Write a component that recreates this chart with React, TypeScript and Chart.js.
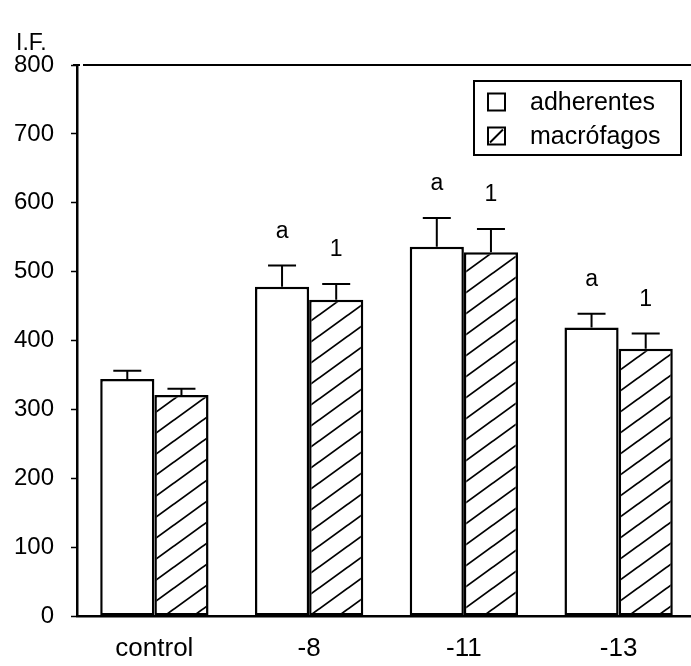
import React, { useEffect, useRef } from 'react';
import { Chart, registerables } from 'chart.js';

Chart.register(...registerables);

const categories = ['control', '-8', '-11', '-13'];
const seriesLabels = ['adherentes', 'macrófagos'];
const adherentes = [344, 478, 536, 419];
const adherentesErr = [12, 31, 42, 20];
const macrofagos = [321, 459, 528, 388];
const macrofagosErr = [9, 23, 34, 22];
const sigAdherentes = ['', 'a', 'a', 'a'];
const sigMacrofagos = ['', '1', '1', '1'];
const yTickValues = [0, 100, 200, 300, 400, 500, 600, 700, 800];
const yAxisTitle = 'I.F.';

const FONT = '"Liberation Sans", Arial, Helvetica, sans-serif';

function makeHatch(): CanvasPattern | string {
  const w = 29;
  const h = 21;
  const c = document.createElement('canvas');
  c.width = w;
  c.height = h;
  const g = c.getContext('2d');
  if (!g) return '#fff';
  g.fillStyle = '#fff';
  g.fillRect(0, 0, w, h);
  g.strokeStyle = '#000';
  g.lineWidth = 1.8;
  const lines = [
    [-w, 2 * h, 2 * w, -h],
    [0, 2 * h, 2 * w, 0],
    [-w, h, w, -h],
  ];
  for (const [x1, y1, x2, y2] of lines) {
    g.beginPath();
    g.moveTo(x1, y1);
    g.lineTo(x2, y2);
    g.stroke();
  }
  const p = g.createPattern(c, 'repeat');
  return p || '#fff';
}

export default function App() {
  const ref = useRef<HTMLCanvasElement | null>(null);

  useEffect(() => {
    const canvas = ref.current;
    if (!canvas) return;
    const hatch = makeHatch();
    const errs = [adherentesErr, macrofagosErr];
    const sigs = [sigAdherentes, sigMacrofagos];

    const extras = {
      id: 'extras',
      afterDatasetsDraw(chart: any) {
        const ctx = chart.ctx as CanvasRenderingContext2D;
        const ys = chart.scales.y;
        const area = chart.chartArea;
        ctx.save();
        // top frame line
        ctx.strokeStyle = '#000';
        ctx.lineWidth = 2;
        ctx.beginPath();
        ctx.moveTo(area.left + 6, area.top);
        ctx.lineTo(area.right, area.top);
        ctx.stroke();
        ctx.beginPath();
        ctx.moveTo(area.left - 4, area.top);
        ctx.lineTo(area.left + 3, area.top);
        ctx.stroke();
        // error bars + significance letters
        chart.data.datasets.forEach((ds: any, di: number) => {
          const meta = chart.getDatasetMeta(di);
          meta.data.forEach((bar: any, i: number) => {
            const v = ds.data[i];
            const capY = ys.getPixelForValue(v + errs[di][i]);
            ctx.strokeStyle = '#000';
            ctx.lineWidth = 2;
            ctx.beginPath();
            ctx.moveTo(bar.x, bar.y);
            ctx.lineTo(bar.x, capY);
            ctx.moveTo(bar.x - 14, capY);
            ctx.lineTo(bar.x + 14, capY);
            ctx.stroke();
            const s = sigs[di][i];
            if (s) {
              ctx.fillStyle = '#000';
              ctx.font = `23px ${FONT}`;
              ctx.textAlign = 'center';
              ctx.textBaseline = 'middle';
              ctx.fillText(s, bar.x, capY - 34);
            }
          });
        });
        // legend box
        const bx = area.right - 222;
        const by = area.top + 16;
        const bw = 207;
        const bh = 74;
        ctx.fillStyle = '#fff';
        ctx.fillRect(bx, by, bw, bh);
        ctx.lineWidth = 2;
        ctx.strokeRect(bx, by, bw, bh);
        ctx.font = `25px ${FONT}`;
        ctx.textAlign = 'left';
        ctx.textBaseline = 'middle';
        chart.data.datasets.forEach((ds: any, di: number) => {
          const cy = by + 21 + di * 34;
          const sx = bx + 14;
          const sz = 17;
          ctx.fillStyle = '#fff';
          ctx.fillRect(sx, cy - sz / 2, sz, sz);
          ctx.strokeStyle = '#000';
          ctx.lineWidth = 2;
          ctx.strokeRect(sx, cy - sz / 2, sz, sz);
          if (di === 1) {
            ctx.beginPath();
            ctx.moveTo(sx + 2, cy + sz / 2 - 2);
            ctx.lineTo(sx + sz - 2, cy - sz / 2 + 2);
            ctx.stroke();
          }
          ctx.fillStyle = '#000';
          ctx.fillText(ds.label, bx + 56, cy + 1);
        });
        // axis title
        ctx.font = `23px ${FONT}`;
        ctx.textAlign = 'left';
        ctx.textBaseline = 'middle';
        ctx.fillText(yAxisTitle, 16, 44);
        ctx.restore();
      },
    };

    const chart = new Chart(canvas, {
      type: 'bar',
      data: {
        labels: categories,
        datasets: [
          {
            label: seriesLabels[0],
            data: adherentes,
            backgroundColor: '#fff',
            borderColor: '#000',
            borderWidth: 2.5,
            borderSkipped: false,
          },
          {
            label: seriesLabels[1],
            data: macrofagos,
            backgroundColor: hatch as any,
            borderColor: '#000',
            borderWidth: 2.5,
            borderSkipped: false,
          },
        ],
      },
      options: {
        responsive: false,
        animation: false,
        devicePixelRatio: 1,
        layout: { padding: { top: 65, right: 0, bottom: 0, left: 0 } },
        plugins: {
          legend: { display: false },
          tooltip: { enabled: false },
          title: { display: false },
        },
        datasets: {
          bar: { categoryPercentage: 0.7, barPercentage: 1.0 },
        },
        scales: {
          x: {
            type: 'category',
            grid: { display: false, drawTicks: false },
            border: { display: true, color: '#000', width: 2.5 },
            ticks: {
              color: '#000',
              font: { family: FONT, size: 26 },
              padding: 17,
            },
            afterFit: (s: any) => {
              s.height = 50;
            },
          },
          y: {
            min: 0,
            max: 800,
            afterBuildTicks: (s: any) => {
              s.ticks = yTickValues.map((v) => ({ value: v }));
            },
            grid: {
              drawOnChartArea: false,
              drawTicks: true,
              tickLength: 6,
              tickColor: '#000',
              tickWidth: 1.5,
            },
            border: { display: true, color: '#000', width: 2.5 },
            ticks: {
              color: '#000',
              font: { family: FONT, size: 24 },
              padding: 17,
            },
            afterFit: (s: any) => {
              s.width = 77;
            },
          },
        },
      },
      plugins: [extras],
    });

    return () => chart.destroy();
  }, []);

  return (
    <div
      style={{
        position: 'absolute',
        left: 0,
        top: 0,
        width: 691,
        height: 666,
        overflow: 'hidden',
        background: '#fff',
      }}
    >
      <canvas ref={ref} width={696} height={666} style={{ display: 'block' }} />
    </div>
  );
}
